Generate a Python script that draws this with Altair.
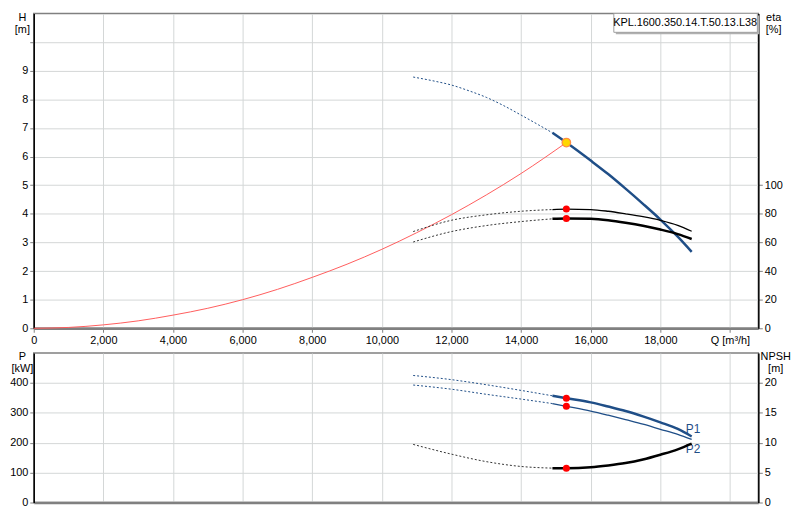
import altair as alt
import pandas as pd

# ---------------- data ----------------
Q_MAX = 20815
X_TICKS = [0, 2000, 4000, 6000, 8000, 10000, 12000, 14000, 16000, 18000, 20000]

# Head curve H [m]
h_dot_q = [10900, 11500, 12000, 12500, 13000, 13500, 14000, 14500, 14900]
h_dot_v = [8.78, 8.64, 8.50, 8.30, 8.07, 7.78, 7.45, 7.11, 6.83]
h_sol_q = [14900, 15300, 16000, 16500, 17000, 17500, 18000, 18500, 18900]
h_sol_v = [6.83, 6.49, 5.86, 5.39, 4.88, 4.35, 3.80, 3.20, 2.67]

# System curve (red)
sys_q = [0, 1000, 2000, 3000, 4000, 5000, 6000, 7000, 8000, 9000, 10000, 11000, 12000, 13000, 14000, 15300]
sys_v = [0, 0.03, 0.12, 0.26, 0.46, 0.70, 1.00, 1.36, 1.78, 2.24, 2.76, 3.34, 3.97, 4.66, 5.41, 6.49]

# Efficiency curves eta [%]
eta1_dot_q = [10900, 12000, 13000, 14000, 14900]
eta1_dot_v = [67.6, 75.5, 79.3, 81.8, 83.0]
eta1_sol_q = [14900, 15300, 16000, 16500, 17000, 17500, 18000, 18500, 18900]
eta1_sol_v = [83.0, 83.3, 83.0, 81.8, 80.0, 78.0, 75.5, 72.0, 67.8]
eta2_dot_q = [10900, 12000, 13000, 14000, 14900]
eta2_dot_v = [60.3, 67.6, 71.8, 74.6, 76.5]
eta2_sol_q = [14900, 15300, 16000, 16500, 17000, 17500, 18000, 18500, 18900]
eta2_sol_v = [76.5, 76.8, 76.5, 75.5, 73.8, 71.7, 69.0, 65.8, 62.4]

# Power curves P [kW]
p1_dot_q = [10900, 12000, 13000, 14000, 14900]
p1_dot_v = [425, 411, 394, 375, 357]
p1_sol_q = [14900, 15300, 16000, 16500, 17000, 17500, 18000, 18500, 18900]
p1_sol_v = [357, 349, 335, 321, 306, 288, 268, 246, 221]
p2_dot_q = [10900, 12000, 13000, 14000, 14900]
p2_dot_v = [393, 379, 362, 346, 331]
p2_sol_q = [14900, 15300, 16000, 16500, 17000, 17500, 18000, 18500, 18900]
p2_sol_v = [331, 322, 306, 292, 277, 262, 245, 228, 211]

# NPSH [m]
npsh_dot_q = [10900, 12000, 13000, 14000, 14900]
npsh_dot_v = [9.72, 8.09, 6.84, 6.03, 5.75]
npsh_sol_q = [14900, 15300, 16000, 16500, 17000, 17500, 18000, 18500, 18900]
npsh_sol_v = [5.75, 5.75, 5.90, 6.20, 6.60, 7.20, 8.00, 8.90, 9.85]

# Operating point
op_q = 15300
op_h = 6.49
op_eta = [83.3, 76.8]
op_p = [349, 322]
op_npsh = 5.75

curve_labels = ["P1", "P2"]
curve_label_q = [18730, 18730]
curve_label_p = [247, 180]

legend_text = "KPL.1600.350.14.T.50.13.L38"

# ---------------- styling ----------------
W = 732
H_TOP = 318
H_BOT = 151
BLUE = "#1f4e87"
RED_LINE = "#ff5c5c"
GRID = "#d3d7d7"
FRAME = "#808080"
FONT = "Liberation Sans"


def df(q, v):
    return pd.DataFrame({"Q": q, "v": v})


xs = alt.Scale(domain=[0, Q_MAX], nice=False, zero=False)

x_axis_top = alt.Axis(
    values=X_TICKS, grid=True, gridColor=GRID, gridWidth=1,
    domainColor=FRAME, domainWidth=2.5, tickColor=FRAME, tickSize=4,
    labelFontSize=11, labelColor="black", labelPadding=2, labelFlush=False,
    labelExpr="datum.value == 20000 ? 'Q [m³/h]' : format(datum.value, ',')",
    title=None,
)
x_axis_bot = alt.Axis(
    values=X_TICKS, grid=True, gridColor=GRID, gridWidth=1, labels=False, ticks=False,
    domainColor=FRAME, domainWidth=2.5, title=None,
)


def left_axis(values, title, expr=None):
    kw = dict(
        values=values, grid=True, gridColor=GRID, gridWidth=1,
        domainColor="black", domainWidth=1.5, tickColor=FRAME, tickSize=4,
        labelFontSize=11, labelColor="black", labelPadding=2,
        title=title, titleAngle=0, titleX=-12, titleY=-2, titleBaseline="top",
        titleAlign="center", titleFontWeight="normal", titleFontSize=11,
        titleColor="black", titleLineHeight=12,
    )
    if expr:
        kw["labelExpr"] = expr
    return alt.Axis(**kw)


def right_axis(values, title, tx):
    return alt.Axis(
        values=values, orient="right", grid=False,
        domainColor="black", domainWidth=1.5, tickColor=FRAME, tickSize=4,
        labelFontSize=11, labelColor="black", labelPadding=2,
        title=title, titleAngle=0, titleX=tx, titleY=-2, titleBaseline="top",
        titleAlign="center", titleFontWeight="normal", titleFontSize=11,
        titleColor="black", titleLineHeight=12,
    )


def enc(xaxis, scale, yaxis):
    return dict(
        x=alt.X("Q:Q", scale=xs, axis=xaxis),
        y=alt.Y("v:Q", scale=scale, axis=yaxis),
    )


def line(d, xaxis, scale, yaxis, color, width, dash=None):
    kw = dict(color=color, strokeWidth=width, interpolate="monotone")
    if dash:
        kw["strokeDash"] = dash
    return alt.Chart(d).mark_line(**kw).encode(**enc(xaxis, scale, yaxis))


# ---------------- top panel ----------------
yh = alt.Scale(domain=[0, 11], nice=False, zero=False)
yeta = alt.Scale(domain=[0, 220], nice=False, zero=False)
ax_h = left_axis(list(range(0, 11)), ["H", "[m]"], "datum.value >= 10 ? '' : datum.label")
ax_eta = right_axis([0, 20, 40, 60, 80, 100], ["eta", "[%]"], 15)

h_layers = alt.layer(
    line(df(sys_q, sys_v), x_axis_top, yh, ax_h, RED_LINE, 1),
    line(df(h_dot_q, h_dot_v), x_axis_top, yh, ax_h, BLUE, 1, dash=[2, 2]),
    line(df(h_sol_q, h_sol_v), x_axis_top, yh, ax_h, BLUE, 2.5),
    alt.Chart(df([op_q], [op_h])).mark_point(
        filled=True, fill="#ffd700", stroke="#ff8c40", strokeWidth=1.2, size=75, opacity=1
    ).encode(**enc(x_axis_top, yh, ax_h)),
)

eta_layers = alt.layer(
    line(df(eta1_dot_q, eta1_dot_v), x_axis_top, yeta, ax_eta, "#333333", 1, dash=[2, 2]),
    line(df(eta2_dot_q, eta2_dot_v), x_axis_top, yeta, ax_eta, "#333333", 1, dash=[2, 2]),
    line(df(eta1_sol_q, eta1_sol_v), x_axis_top, yeta, ax_eta, "black", 1.3),
    line(df(eta2_sol_q, eta2_sol_v), x_axis_top, yeta, ax_eta, "black", 2.5),
    alt.Chart(df([op_q, op_q], op_eta)).mark_circle(color="#ff0000", size=50, opacity=1).encode(
        **enc(x_axis_top, yeta, ax_eta)),
)

legend_box = alt.layer(
    alt.Chart(df([0], [0])).mark_rect(color="#b0b0b0").encode(
        x=alt.value(588), x2=alt.value(733), y=alt.value(2), y2=alt.value(21)),
    alt.Chart(df([0], [0])).mark_rect(fill="white", stroke="#a0a0a0", strokeWidth=1).encode(
        x=alt.value(586), x2=alt.value(731), y=alt.value(0), y2=alt.value(19)),
    alt.Chart(df([0], [0])).mark_text(text=legend_text, fontSize=11, color="black", align="center", baseline="middle").encode(
        x=alt.value(658), y=alt.value(10)),
)

top = alt.layer(h_layers, eta_layers, legend_box).resolve_scale(y="independent").properties(width=W, height=H_TOP)

# ---------------- bottom panel ----------------
yp = alt.Scale(domain=[0, 500], nice=False, zero=False)
ynp = alt.Scale(domain=[0, 25], nice=False, zero=False)
ax_p = left_axis([0, 100, 200, 300, 400], ["P", "[kW]"])
ax_np = right_axis([0, 5, 10, 15, 20], ["NPSH", "[m]"], 17)

p_layers = alt.layer(
    line(df(p1_dot_q, p1_dot_v), x_axis_bot, yp, ax_p, BLUE, 1, dash=[2, 2]),
    line(df(p2_dot_q, p2_dot_v), x_axis_bot, yp, ax_p, BLUE, 1, dash=[2, 2]),
    line(df(p1_sol_q, p1_sol_v), x_axis_bot, yp, ax_p, BLUE, 2.5),
    line(df(p2_sol_q, p2_sol_v), x_axis_bot, yp, ax_p, BLUE, 1.3),
    alt.Chart(df([op_q, op_q], op_p)).mark_circle(color="#ff0000", size=50, opacity=1).encode(
        **enc(x_axis_bot, yp, ax_p)),
    alt.Chart(pd.DataFrame({"Q": curve_label_q, "v": curve_label_p, "t": curve_labels})).mark_text(
        align="left", baseline="middle", fontSize=12, color=BLUE).encode(
        text="t:N", **enc(x_axis_bot, yp, ax_p)),
)

npsh_layers = alt.layer(
    line(df(npsh_dot_q, npsh_dot_v), x_axis_bot, ynp, ax_np, "#333333", 1, dash=[2, 2]),
    line(df(npsh_sol_q, npsh_sol_v), x_axis_bot, ynp, ax_np, "black", 2.5),
    alt.Chart(df([op_q], [op_npsh])).mark_circle(color="#ff0000", size=50, opacity=1).encode(
        **enc(x_axis_bot, ynp, ax_np)),
)

bottom = alt.layer(p_layers, npsh_layers).resolve_scale(y="independent").properties(width=W, height=H_BOT)

chart = (
    alt.vconcat(top, bottom, spacing=4)
    .properties(padding=0, background="white")
    .configure(font=FONT)
    .configure_view(stroke=FRAME, strokeWidth=1.5)
)

chart.save("out.html", embed_options={"renderer": "svg", "actions": False})
